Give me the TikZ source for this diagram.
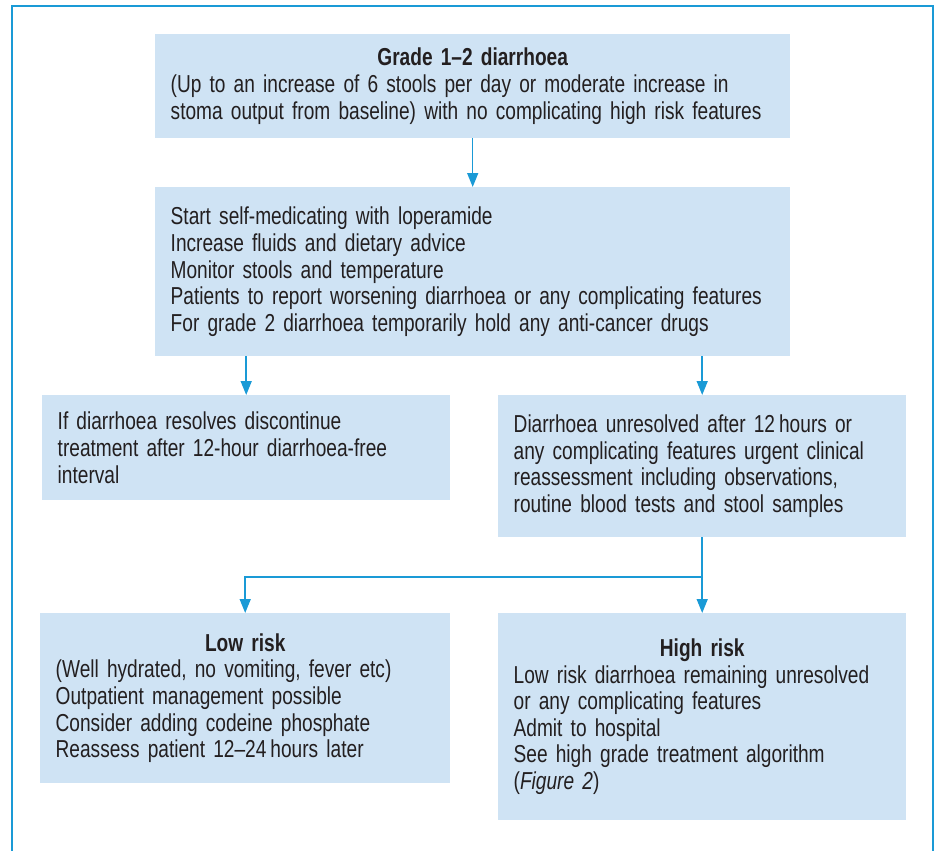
\documentclass[tikz,border=0pt]{standalone}
\usepackage{fontspec}
\setmainfont{Liberation Sans}[FakeStretch=0.78,WordSpace=0.7]
\usetikzlibrary{arrows.meta}
\hyphenpenalty=10000
\definecolor{boxfill}{HTML}{CFE3F4}
\definecolor{linkblue}{HTML}{1A9AD6}
\definecolor{txt}{HTML}{231F20}
\tikzset{
  box/.style={fill=boxfill, draw=none, inner ysep=0pt, inner xsep=15.5pt, align=left, text=txt, font=\fontsize{24.5}{26.6}\selectfont, anchor=north west},
  link/.style={draw=linkblue, line width=1.5pt, -{Triangle[length=14pt,width=11pt]}},
  frame/.style={draw=linkblue, line width=1.4pt}
}
\newcommand{\ctitle}[1]{\makebox[\linewidth][c]{\bfseries #1}}
\begin{document}
\begin{tikzpicture}[x=1pt,y=-1pt]
\useasboundingbox (0,0) rectangle (937,851);
\draw[frame] (12,851) -- (12,6) -- (933,6) -- (933,851);
\node[box, text width=604pt, minimum width=635pt, minimum height=104pt] (grade) at (155,34)
 {\ctitle{Grade 1–2 diarrhoea}\\(Up to an increase of 6 stools per day or moderate increase in\\stoma output from baseline) with no complicating high risk features};
\node[box, text width=604pt, minimum width=635pt, minimum height=169pt] (start) at (155,187)
 {Start self-medicating with loperamide\\Increase fluids and dietary advice\\Monitor stools and temperature\\Patients to report worsening diarrhoea or any complicating features\\For grade 2 diarrhoea temporarily hold any anti-cancer drugs};
\node[box, text width=377pt, minimum width=408pt, minimum height=105pt] (resolve) at (42,395)
 {If diarrhoea resolves discontinue\\treatment after 12-hour diarrhoea-free\\interval};
\node[box, text width=377pt, minimum width=408pt, minimum height=142pt] (unres) at (498,395)
 {Diarrhoea unresolved after 12\,hours or\\any complicating features urgent clinical\\reassessment including observations,\\routine blood tests and stool samples};
\node[box, text width=379pt, minimum width=410pt, minimum height=170pt] (low) at (40,613)
 {\ctitle{Low risk}\\(Well hydrated, no vomiting, fever etc)\\Outpatient management possible\\Consider adding codeine phosphate\\Reassess patient 12–24\,hours later};
\node[box, text width=377pt, minimum width=408pt, minimum height=207pt] (high) at (498,613)
 {\ctitle{High risk}\\Low risk diarrhoea remaining unresolved\\or any complicating features\\Admit to hospital\\See high grade treatment algorithm\\(\textit{Figure 2})};
\coordinate (split) at (703,577);
\draw[link] (grade.south) -- (start.north);
\draw[link] (start.south -| resolve.north) -- (resolve.north);
\draw[link] (start.south -| unres.north) -- (unres.north);
\draw[link] (unres.south) -- (high.north);
\draw[link] (split) -| (low.north);
\end{tikzpicture}
\end{document}
